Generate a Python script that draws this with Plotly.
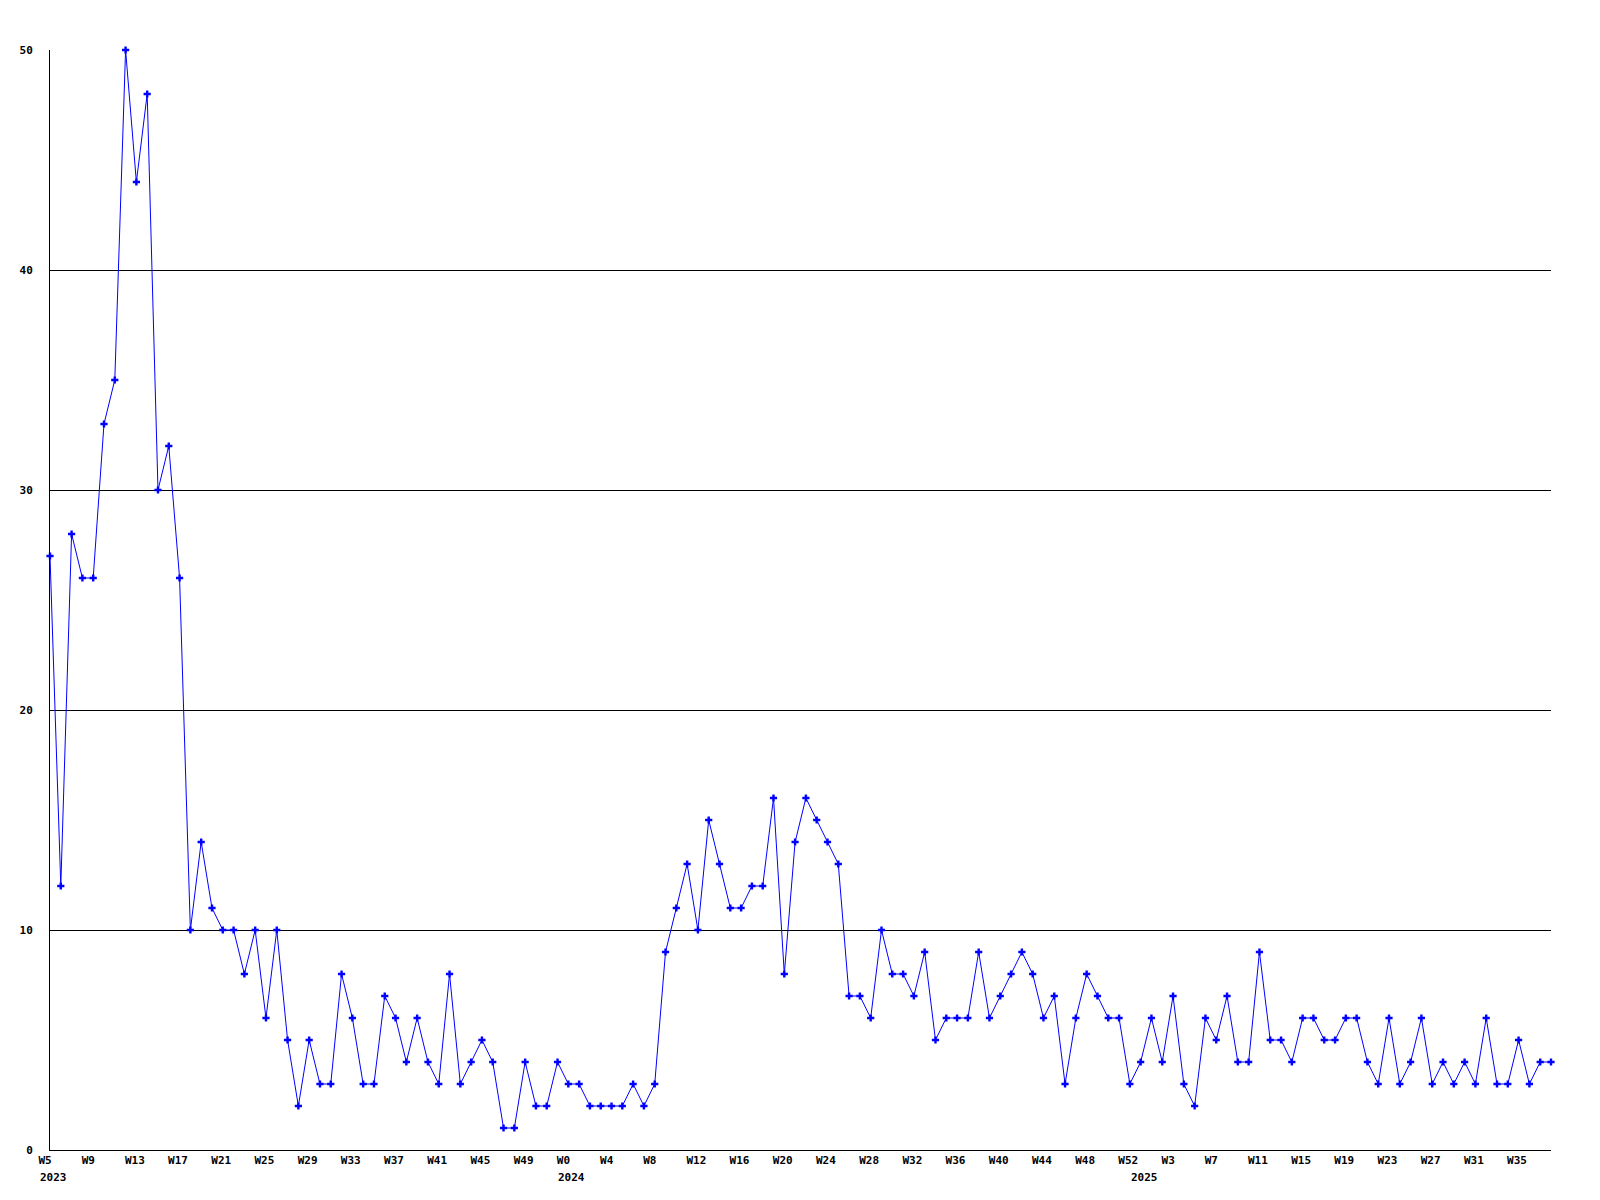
import plotly.graph_objects as go

# Weekly counts, 2023 W5 .. 2025 W38 (one value per week)
values = [
    27, 12, 28, 26, 26, 33, 35, 50, 44, 48,
    30, 32, 26, 10, 14, 11, 10, 10, 8, 10,
    6, 10, 5, 2, 5, 3, 3, 8, 6, 3,
    3, 7, 6, 4, 6, 4, 3, 8, 3, 4,
    5, 4, 1, 1, 4, 2, 2, 4, 3, 3,
    2, 2, 2, 2, 3, 2, 3, 9, 11, 13,
    10, 15, 13, 11, 11, 12, 12, 16, 8, 14,
    16, 15, 14, 13, 7, 7, 6, 10, 8, 8,
    7, 9, 5, 6, 6, 6, 9, 6, 7, 8,
    9, 8, 6, 7, 3, 6, 8, 7, 6, 6,
    3, 4, 6, 4, 7, 3, 2, 6, 5, 7,
    4, 4, 9, 5, 5, 4, 6, 6, 5, 5,
    6, 6, 4, 3, 6, 3, 4, 6, 3, 4,
    3, 4, 3, 6, 3, 3, 5, 3, 4, 4,
]

week_ticks = [
    "W5", "W9", "W13", "W17", "W21", "W25", "W29", "W33", "W37", "W41", "W45", "W49",
    "W0", "W4", "W8", "W12", "W16", "W20", "W24", "W28", "W32", "W36", "W40", "W44",
    "W48", "W52", "W3", "W7", "W11", "W15", "W19", "W23", "W27", "W31", "W35",
]
tick_step = 4

years = ["2023", "2024", "2025"]
year_start_index = [0, 48, 101]

y_ticks = [0, 10, 20, 30, 40, 50]
y_tick_text = ["\u00a00", "10", "20", "30", "40", "50"]

x = list(range(len(values)))
tickvals = [i * tick_step for i in range(len(week_ticks))]

FONT = dict(family="DejaVu Sans Mono", size=11, color="black", weight="bold")

fig = go.Figure()
fig.add_trace(go.Scatter(
    x=x, y=values, mode="lines+markers",
    line=dict(color="#0000ff", width=1),
    marker=dict(symbol="cross", size=6, color="#0000ff", line=dict(width=0)),
    cliponaxis=False, showlegend=False, hoverinfo="x+y",
))

for yr, idx in zip(years, year_start_index):
    fig.add_annotation(
        x=idx, y=0, xref="x", yref="paper", text=yr, showarrow=False,
        xanchor="left", yanchor="middle", xshift=-12, yshift=-27,
        font=FONT,
    )

fig.update_layout(
    width=1600, height=1200, autosize=False,
    margin=dict(l=50, r=49, t=50, b=50, pad=0),
    plot_bgcolor="white", paper_bgcolor="white",
    font=FONT,
)
fig.update_xaxes(
    range=[0, len(values) - 1], showgrid=False, zeroline=False,
    showline=True, linecolor="black", linewidth=1, ticks="",
    tickmode="array", tickvals=tickvals, ticktext=week_ticks,
    ticklabelposition="outside right", ticklabelshift=-12,
    tickfont=FONT, tickangle=0,
)
fig.update_yaxes(
    range=[0, 50], showgrid=True, gridcolor="black", gridwidth=1,
    zeroline=False, showline=True, linecolor="black", linewidth=1,
    ticks="", tickmode="array", tickvals=y_ticks, ticktext=y_tick_text,
    ticklabelstandoff=14, tickfont=FONT,
)

fig.write_html(
    "out.html",
    config={"displayModeBar": False},
    post_script="document.body.style.margin='0';",
)
